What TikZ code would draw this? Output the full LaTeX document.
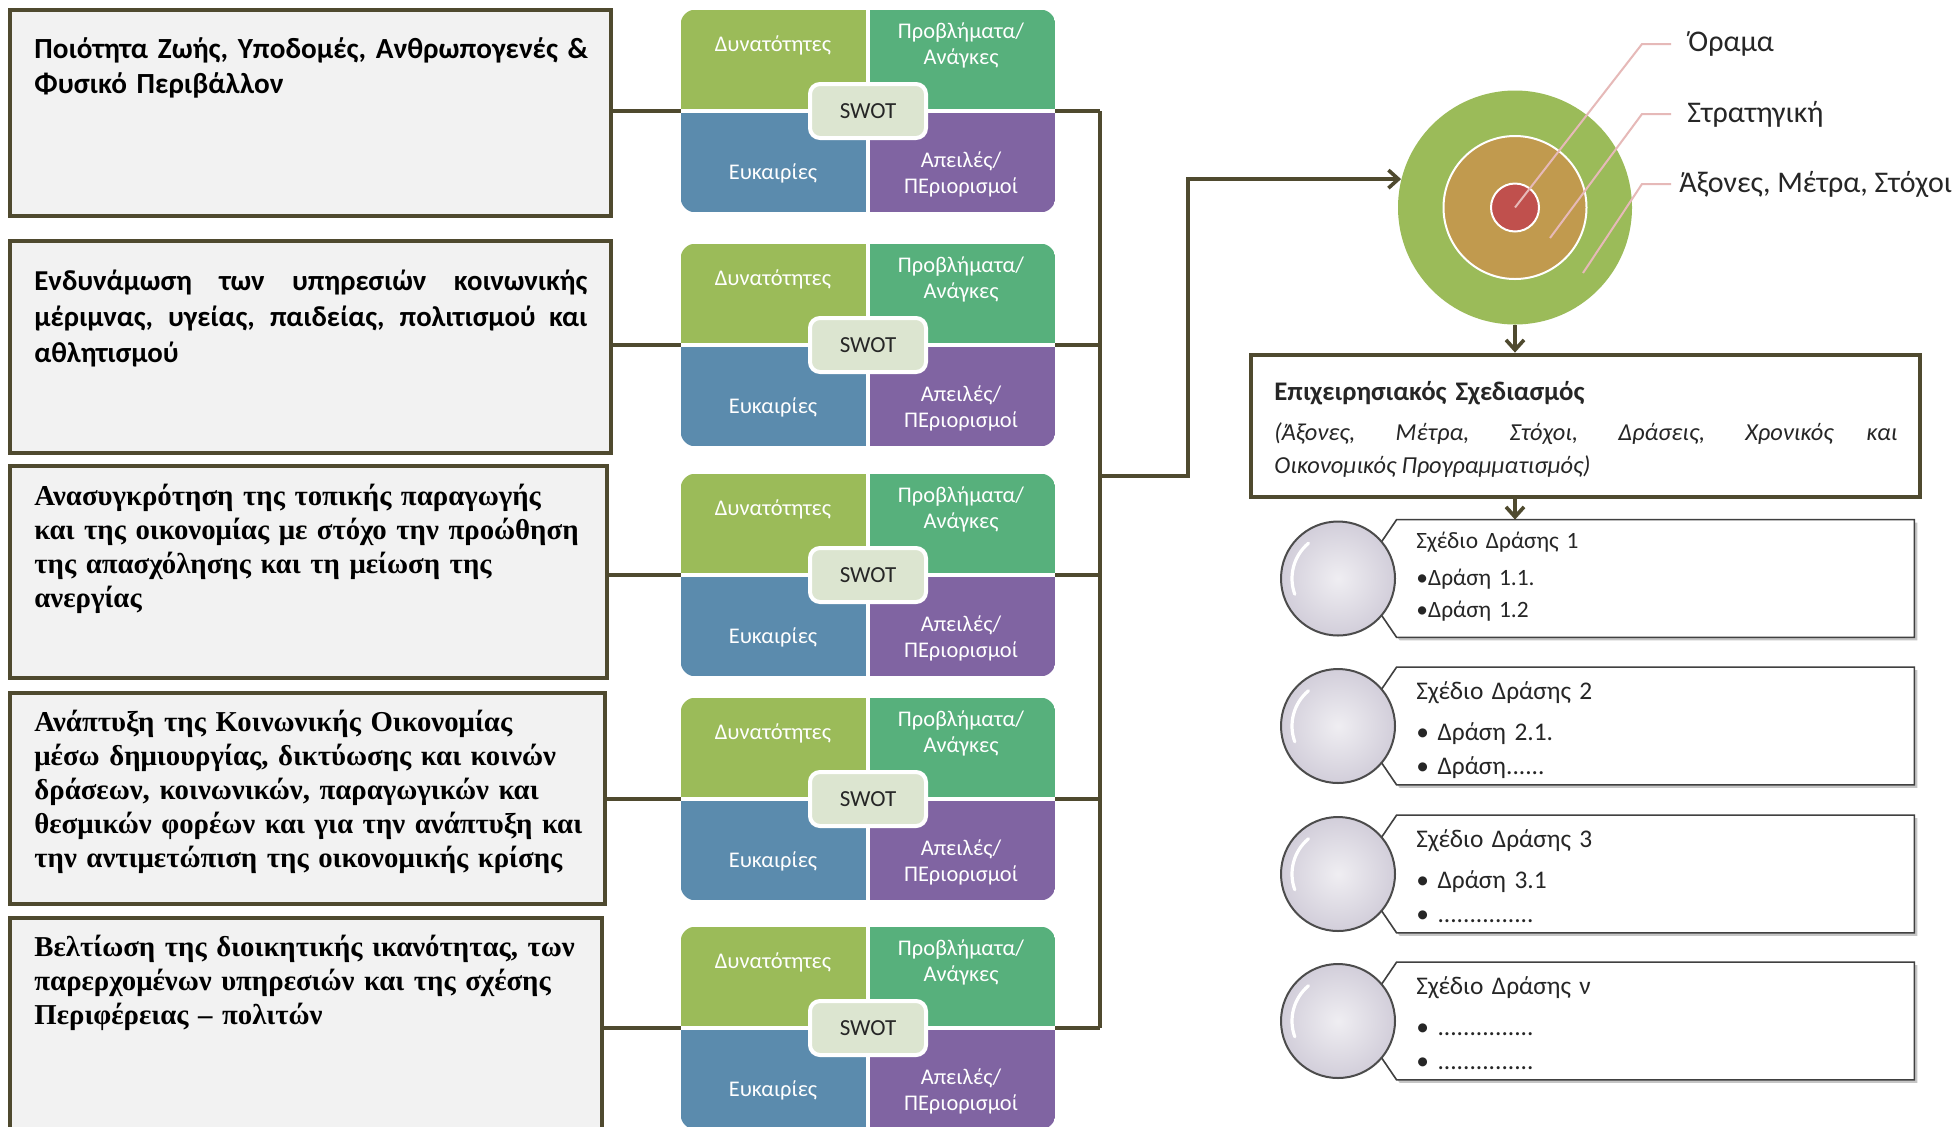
\documentclass[tikz,border=0pt]{standalone}
\usepackage{fontspec}
\setmainfont{Carlito}
\newfontfamily\serifgr{Liberation Serif}
\usetikzlibrary{arrows.meta,shadows}

\definecolor{FrameClr}{HTML}{4F4A2F}
\definecolor{BoxClr}{HTML}{F2F2F2}
\definecolor{StrengthClr}{HTML}{9BBB59}
\definecolor{NeedClr}{HTML}{57B07C}
\definecolor{ChanceClr}{HTML}{5B8BAD}
\definecolor{ThreatClr}{HTML}{8064A2}
\definecolor{CoreClr}{HTML}{DCE5D0}
\definecolor{AxesClr}{HTML}{9BBB59}
\definecolor{StrategyClr}{HTML}{C19A4E}
\definecolor{VisionClr}{HTML}{C0504D}
\definecolor{LeaderClr}{HTML}{E6B9B8}
\definecolor{BallClr}{HTML}{D2CEDA}

\tikzset{
  link/.style={draw=FrameClr, line width=1.8pt},
  arrowed/.style={-{Straight Barb[length=5pt,width=9pt]}},
  themebox/.style={draw=FrameClr, line width=2.4pt, fill=BoxClr, inner sep=0pt},
  sanstxt/.style={anchor=base west, inner sep=0pt, text width=278pt,
    font=\bfseries\fontsize{14.6}{17.5}\selectfont},
  seriftxt/.style={anchor=base west, inner sep=0pt, text width=278pt, align=left,
    font=\serifgr\bfseries\fontsize{14.4}{17.1}\selectfont},
  swotframe/.style={minimum width=187pt, minimum height=101pt, inner sep=0pt},
  quadtxt/.style={text=white, align=center, inner sep=0pt, font=\fontsize{11.2}{13}\selectfont},
  swotcore/.style={draw=white, line width=2pt, fill=CoreClr, rounded corners=5pt,
    minimum width=58pt, minimum height=27pt, inner sep=0pt, text=black!85,
    font=\fontsize{11.5}{13}\selectfont},
  ring/.style={circle, inner sep=0pt},
  ringtxt/.style={anchor=west, inner sep=0pt, text=black!85, font=\fontsize{15}{18}\selectfont},
  leader/.style={draw=LeaderClr, line width=1pt},
  planbox/.style={draw=FrameClr, line width=2.4pt, fill=white, inner sep=0pt,
    minimum width=334.5pt, minimum height=71pt},
  actframe/.style={minimum width=258.5pt, minimum height=58.5pt, inner sep=0pt},
  actbox/.style={fill=white, draw=black!75, line width=0.8pt,
    drop shadow={shadow xshift=1.5pt, shadow yshift=-1.5pt, opacity=0.45}},
  actball/.style={circle, minimum size=57pt, inner sep=0pt, draw=black!70, line width=1pt,
    inner color=white!65!BallClr, outer color=BallClr},
  gloss/.style={draw=white, line width=1.6pt, line cap=round},
  acttxt/.style={anchor=base west, inner sep=0pt, text width=230pt, align=left, text=black!85},
}

\begin{document}
\begin{tikzpicture}[x=0.5pt, y=-0.5pt]
\path[fill=white, use as bounding box] (0,0) rectangle (1955,1126);

% thematic priorities
\node[themebox, minimum width=300.5pt, minimum height=103pt] (theme1) at (310.5,113) {};
\node[themebox, minimum width=300.5pt, minimum height=106pt] (theme2) at (310.5,347) {};
\node[themebox, minimum width=298.5pt, minimum height=106pt] (theme3) at (308.5,572) {};
\node[themebox, minimum width=297.5pt, minimum height=105.5pt] (theme4) at (307.5,798.5) {};
\node[themebox, minimum width=296pt, minimum height=105.5pt] (theme5) at (306,1023.5) {};

\node[sanstxt, align=left] (txt1) at (34,58) {Ποιότητα Ζωής, Υποδομές, Ανθρωπογενές \&\\Φυσικό Περιβάλλον};
\node[sanstxt, align=justify, text width=276.5pt, font=\bfseries\fontsize{14.4}{18}\selectfont] (txt2) at (34,290)
  {Ενδυνάμωση των υπηρεσιών κοινωνικής\linebreak
  μέριμνας, υγείας, παιδείας, πολιτισμού και\linebreak αθλητισμού};
\node[seriftxt] (txt3) at (34,505) {Ανασυγκρότηση της τοπικής παραγωγής\\και της οικονομίας με στόχο την προώθηση\\της απασχόλησης και τη μείωση της\\ανεργίας};
\node[seriftxt] (txt4) at (34,731) {Ανάπτυξη της Κοινωνικής Οικονομίας\\μέσω δημιουργίας, δικτύωσης και κοινών\\δράσεων, κοινωνικών, παραγωγικών και\\θεσμικών φορέων και για την ανάπτυξη και\\την αντιμετώπιση της οικονομικής κρίσης};
\node[seriftxt] (txt5) at (34,956) {Βελτίωση της διοικητικής ικανότητας, των\\παρερχομένων υπηρεσιών και της σχέσης\\Περιφέρειας – πολιτών};

\coordinate (bustop) at (1100,111);
\coordinate (busout) at (1100,476);

% one SWOT block per priority
\foreach \i/\y in {1/111,2/345,3/575,4/799,5/1028}{
  \node[swotframe] (swot\i) at (868,\y) {};
  \begin{scope}
    \clip[rounded corners=7.5pt] (swot\i.north west) rectangle (swot\i.south east);
    \fill[StrengthClr] (swot\i.north west) rectangle (swot\i.center);
    \fill[NeedClr] (swot\i.north east) rectangle (swot\i.center);
    \fill[ChanceClr] (swot\i.south west) rectangle (swot\i.center);
    \fill[ThreatClr] (swot\i.south east) rectangle (swot\i.center);
  \end{scope}
  \draw[white, line width=2pt] (swot\i.north) -- (swot\i.south) (swot\i.west) -- (swot\i.east);
  \node[quadtxt] (str\i) at ([shift={(-95,-66)}]swot\i.center) {Δυνατότητες};
  \node[quadtxt] (need\i) at ([shift={(93,-66)}]swot\i.center) {Προβλήματα/\\Ανάγκες};
  \node[quadtxt] (opp\i) at ([shift={(-95,62)}]swot\i.center) {Ευκαιρίες};
  \node[quadtxt] (thr\i) at ([shift={(93,63)}]swot\i.center) {Απειλές/\\ΠΕριορισμοί};
  \node[swotcore] (core\i) at (swot\i.center) {SWOT};
  \draw[link] (theme\i.east |- swot\i.west) -- (swot\i.west);
  \draw[link] (swot\i.east) -- (swot\i.east -| bustop);
}
\draw[link] (swot1.east -| bustop) -- (swot5.east -| bustop);

% vision, strategy, axes
\node[ring, fill=AxesClr, minimum size=117pt] (axes) at (1515,207.5) {};
\node[ring, fill=StrategyClr, draw=white, line width=1pt, minimum size=71.5pt] (strategy) at (1515,207.5) {};
\node[ring, fill=VisionClr, draw=white, line width=1pt, minimum size=24pt] (vision) at (1515,207.5) {};

\draw[link, arrowed] (busout) -- ++(88,0) |- (axes.166);

\node[ringtxt] (lblvision) at (1688,44) {Όραμα};
\node[ringtxt] (lblstrategy) at (1687,114) {Στρατηγική};
\node[ringtxt] (lblaxes) at (1679,184) {Άξονες, Μέτρα, Στόχοι};
\coordinate (pstrategy) at (1550,238);
\coordinate (paxes) at (1583,273);
\draw[leader] (lblvision.west) ++(-17,0) -- ++(-29,0) -- (vision.center);
\draw[leader] (lblstrategy.west) ++(-16,0) -- ++(-29,0) -- (pstrategy);
\draw[leader] (lblaxes.west) ++(-8,0) -- ++(-29,0) -- (paxes);

% operational plan
\node[planbox] (plan) at (1585.5,426) {};
\node[acttxt, font=\bfseries\fontsize{13.4}{16}\selectfont] (plantitle) at (1274,400) {Επιχειρησιακός Σχεδιασμός};
\node[acttxt, text width=311.5pt, align=justify, font=\itshape\fontsize{12.2}{16.5}\selectfont] (planbody) at (1274,440)
  {(Άξονες, Μέτρα, Στόχοι, Δράσεις, Χρονικός και\linebreak Οικονομικός Προγραμματισμός)};
\draw[link, arrowed] (axes.south) -- (axes.south |- plan.north);

% action plans
\foreach \i/\y in {1/578.5,2/726,3/874,4/1021}{
  \node[actframe] (act\i) at (1655.5,\y) {};
  \path[actbox] (act\i.north west) -- (act\i.north east) -- (act\i.south east)
    -- (act\i.south west) -- ([xshift=-20pt]act\i.west) -- cycle;
  \node[actball] (ball\i) at (1338,\y) {};
  \draw[gloss] ([shift={(130:23pt)}]ball\i.center) arc[start angle=130, end angle=200, radius=23pt];
}
\draw[link, arrowed] (plan.south -| axes.south) -- (act1.north -| axes.south);

\node[acttxt, font=\fontsize{11.7}{16}\selectfont] (acttxt1) at (1416,548)
  {Σχέδιο Δράσης 1\\[2.5pt]•Δράση 1.1.\\•Δράση 1.2};
\node[acttxt, font=\fontsize{12.7}{17}\selectfont] (acttxt2) at (1416,699)
  {Σχέδιο Δράσης 2\\[3.5pt]• Δράση 2.1.\\• Δράση......};
\node[acttxt, font=\fontsize{12.7}{17}\selectfont] (acttxt3) at (1416,847)
  {Σχέδιο Δράσης 3\\[3.5pt]• Δράση 3.1\\• ...............};
\node[acttxt, font=\fontsize{12.7}{17}\selectfont] (acttxt4) at (1416,994)
  {Σχέδιο Δράσης ν\\[3.5pt]• ...............\\• ...............};

\end{tikzpicture}
\end{document}
